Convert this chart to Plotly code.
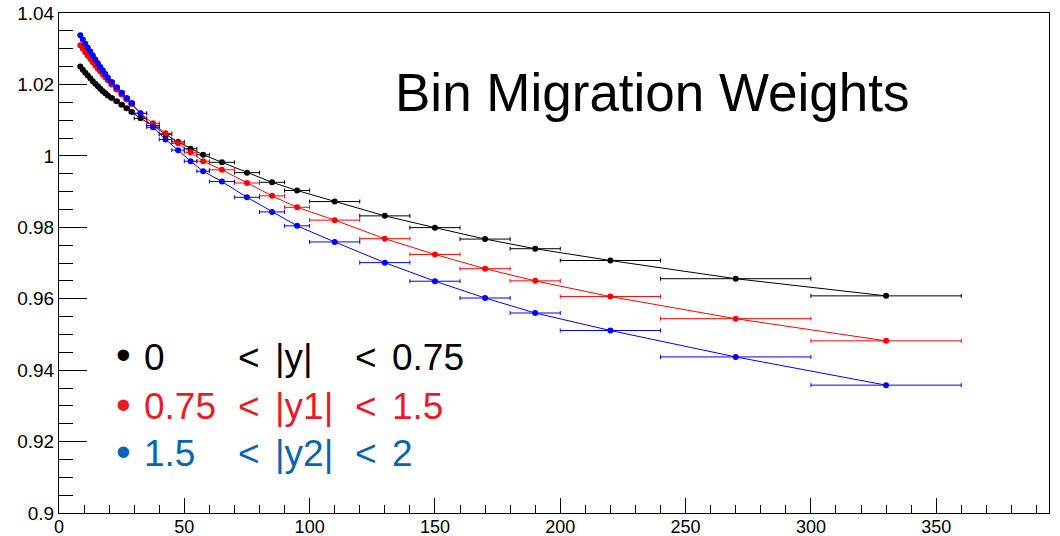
import plotly.graph_objects as go

# ---------------- data ----------------
bin_centers = [8.5, 9.5, 10.5, 11.5, 12.5, 13.5, 14.5, 15.5, 16.5, 17.5, 18.5, 19.5,
               21, 23, 25, 27, 29,
               32.5,
               37.5, 42.5, 47.5, 52.5, 57.5,
               65, 75, 85, 95,
               110, 130, 150, 170, 190,
               220, 270, 330]
bin_halfwidths = [0.5] * 12 + [1] * 5 + [2.5] + [2.5] * 5 + [5] * 4 + [10] * 5 + [20, 30, 30]

w_y0 = [1.0250, 1.0241, 1.0233, 1.0225, 1.0217, 1.0209, 1.0202, 1.0195, 1.0188, 1.0181, 1.0175, 1.0169,
        1.0162, 1.0153, 1.0143, 1.0133, 1.0123,
        1.0105,
        1.0085, 1.0060, 1.0039, 1.0020, 1.0003,
        0.9982, 0.9953, 0.9926, 0.9903,
        0.9872, 0.9832, 0.9799, 0.9767, 0.9740,
        0.9707, 0.9656, 0.9608]
w_y1 = [1.0310, 1.0300, 1.0290, 1.0280, 1.0271, 1.0262, 1.0253, 1.0244, 1.0236, 1.0228, 1.0220, 1.0212,
        1.0200, 1.0186, 1.0172, 1.0158, 1.0145,
        1.0119,
        1.0091, 1.0063, 1.0035, 1.0010, 0.9985,
        0.9961, 0.9924, 0.9888, 0.9856,
        0.9820, 0.9768, 0.9724, 0.9684, 0.9650,
        0.9606, 0.9544, 0.9482]
w_y2 = [1.0338, 1.0326, 1.0314, 1.0303, 1.0292, 1.0281, 1.0270, 1.0259, 1.0249, 1.0239, 1.0229, 1.0219,
        1.0207, 1.0192, 1.0177, 1.0162, 1.0148,
        1.0119,
        1.0080, 1.0046, 1.0016, 0.9985, 0.9957,
        0.9928, 0.9884, 0.9843, 0.9804,
        0.9759, 0.9701, 0.9649, 0.9602, 0.9560,
        0.9511, 0.9437, 0.9358]

title_text = "Bin Migration Weights"
legend_rows = [
    ["0", "<", "|y|", "<", "0.75"],
    ["0.75", "<", "|y1|", "<", "1.5"],
    ["1.5", "<", "|y2|", "<", "2"],
]
y_tick_vals = [0.9, 0.92, 0.94, 0.96, 0.98, 1.0, 1.02, 1.04]
x_tick_vals = [0, 50, 100, 150, 200, 250, 300, 350]

# ---------------- style ----------------
FONT = "Liberation Sans, Arial, sans-serif"
W, H = 1060, 536
ML, MR, MT, MB = 59, 11, 13, 23
PW, PH = W - ML - MR, H - MT - MB

def px_x(px):
    return (px - ML) / PW

def px_y(py):
    return (H - MB - py) / PH

series = [
    (w_y0, "black"),
    (w_y1, "red"),
    (w_y2, "blue"),
]

fig = go.Figure()
for vals, col in series:
    fig.add_trace(go.Scatter(
        x=bin_centers, y=vals, mode="lines+markers",
        line=dict(color=col, width=1),
        marker=dict(color=col, size=6, symbol="circle"),
        error_x=dict(type="data", array=bin_halfwidths, symmetric=True,
                     color=col, thickness=1, width=2),
        showlegend=False, cliponaxis=False,
    ))

annotations = []
annotations.append(dict(
    text=title_text, x=px_x(393), y=px_y(92), xref="paper", yref="paper",
    xanchor="left", yanchor="middle", showarrow=False,
    font=dict(family=FONT, size=53, color="black"),
))

legend_colors = ["black", "rgb(232,28,40)", "rgb(8,100,180)"]
col_px = [142, 236, 273, 353, 390]
row_centers = [357.5, 406.5, 453.5]
bullet_centers = [355, 404, 451]
for r, (row, colr) in enumerate(zip(legend_rows, legend_colors)):
    annotations.append(dict(
        text="•", x=px_x(123), y=px_y(bullet_centers[r]), xref="paper", yref="paper",
        xanchor="center", yanchor="middle", showarrow=False,
        font=dict(family=FONT, size=42, color=colr),
    ))
    for c, txt in enumerate(row):
        annotations.append(dict(
            text=txt, x=px_x(col_px[c]), y=px_y(row_centers[r]), xref="paper", yref="paper",
            xanchor="left", yanchor="middle", showarrow=False,
            font=dict(family=FONT, size=37, color=colr),
        ))

fig.update_layout(
    width=W, height=H,
    margin=dict(l=ML, r=MR, t=MT, b=MB, pad=0, autoexpand=False),
    paper_bgcolor="white", plot_bgcolor="white",
    font=dict(family=FONT, size=19, color="black"),
    annotations=annotations,
    xaxis=dict(
        range=[0, 395], showgrid=False, zeroline=False, automargin=False,
        showline=True, linecolor="black", linewidth=1, mirror=True,
        ticks="inside", ticklen=15, tickcolor="black", tickwidth=1,
        tickvals=x_tick_vals, ticktext=[str(v) for v in x_tick_vals],
        minor=dict(dtick=10, tick0=0, ticks="inside", ticklen=8, tickcolor="black", tickwidth=1, showgrid=False),
        tickfont=dict(family=FONT, size=18, color="black"),
        ticklabelstandoff=-3,
    ),
    yaxis=dict(
        range=[0.9, 1.04], showgrid=False, zeroline=False, automargin=False,
        showline=True, linecolor="black", linewidth=1, mirror=True,
        ticks="inside", ticklen=28, tickcolor="black", tickwidth=1,
        tickvals=y_tick_vals, ticktext=[f"{v:g}" for v in y_tick_vals],
        minor=dict(dtick=0.005, tick0=0.9, ticks="inside", ticklen=14, tickcolor="black", tickwidth=1, showgrid=False),
        tickfont=dict(family=FONT, size=19, color="black"),
    ),
)

fig.write_html("out.html")
